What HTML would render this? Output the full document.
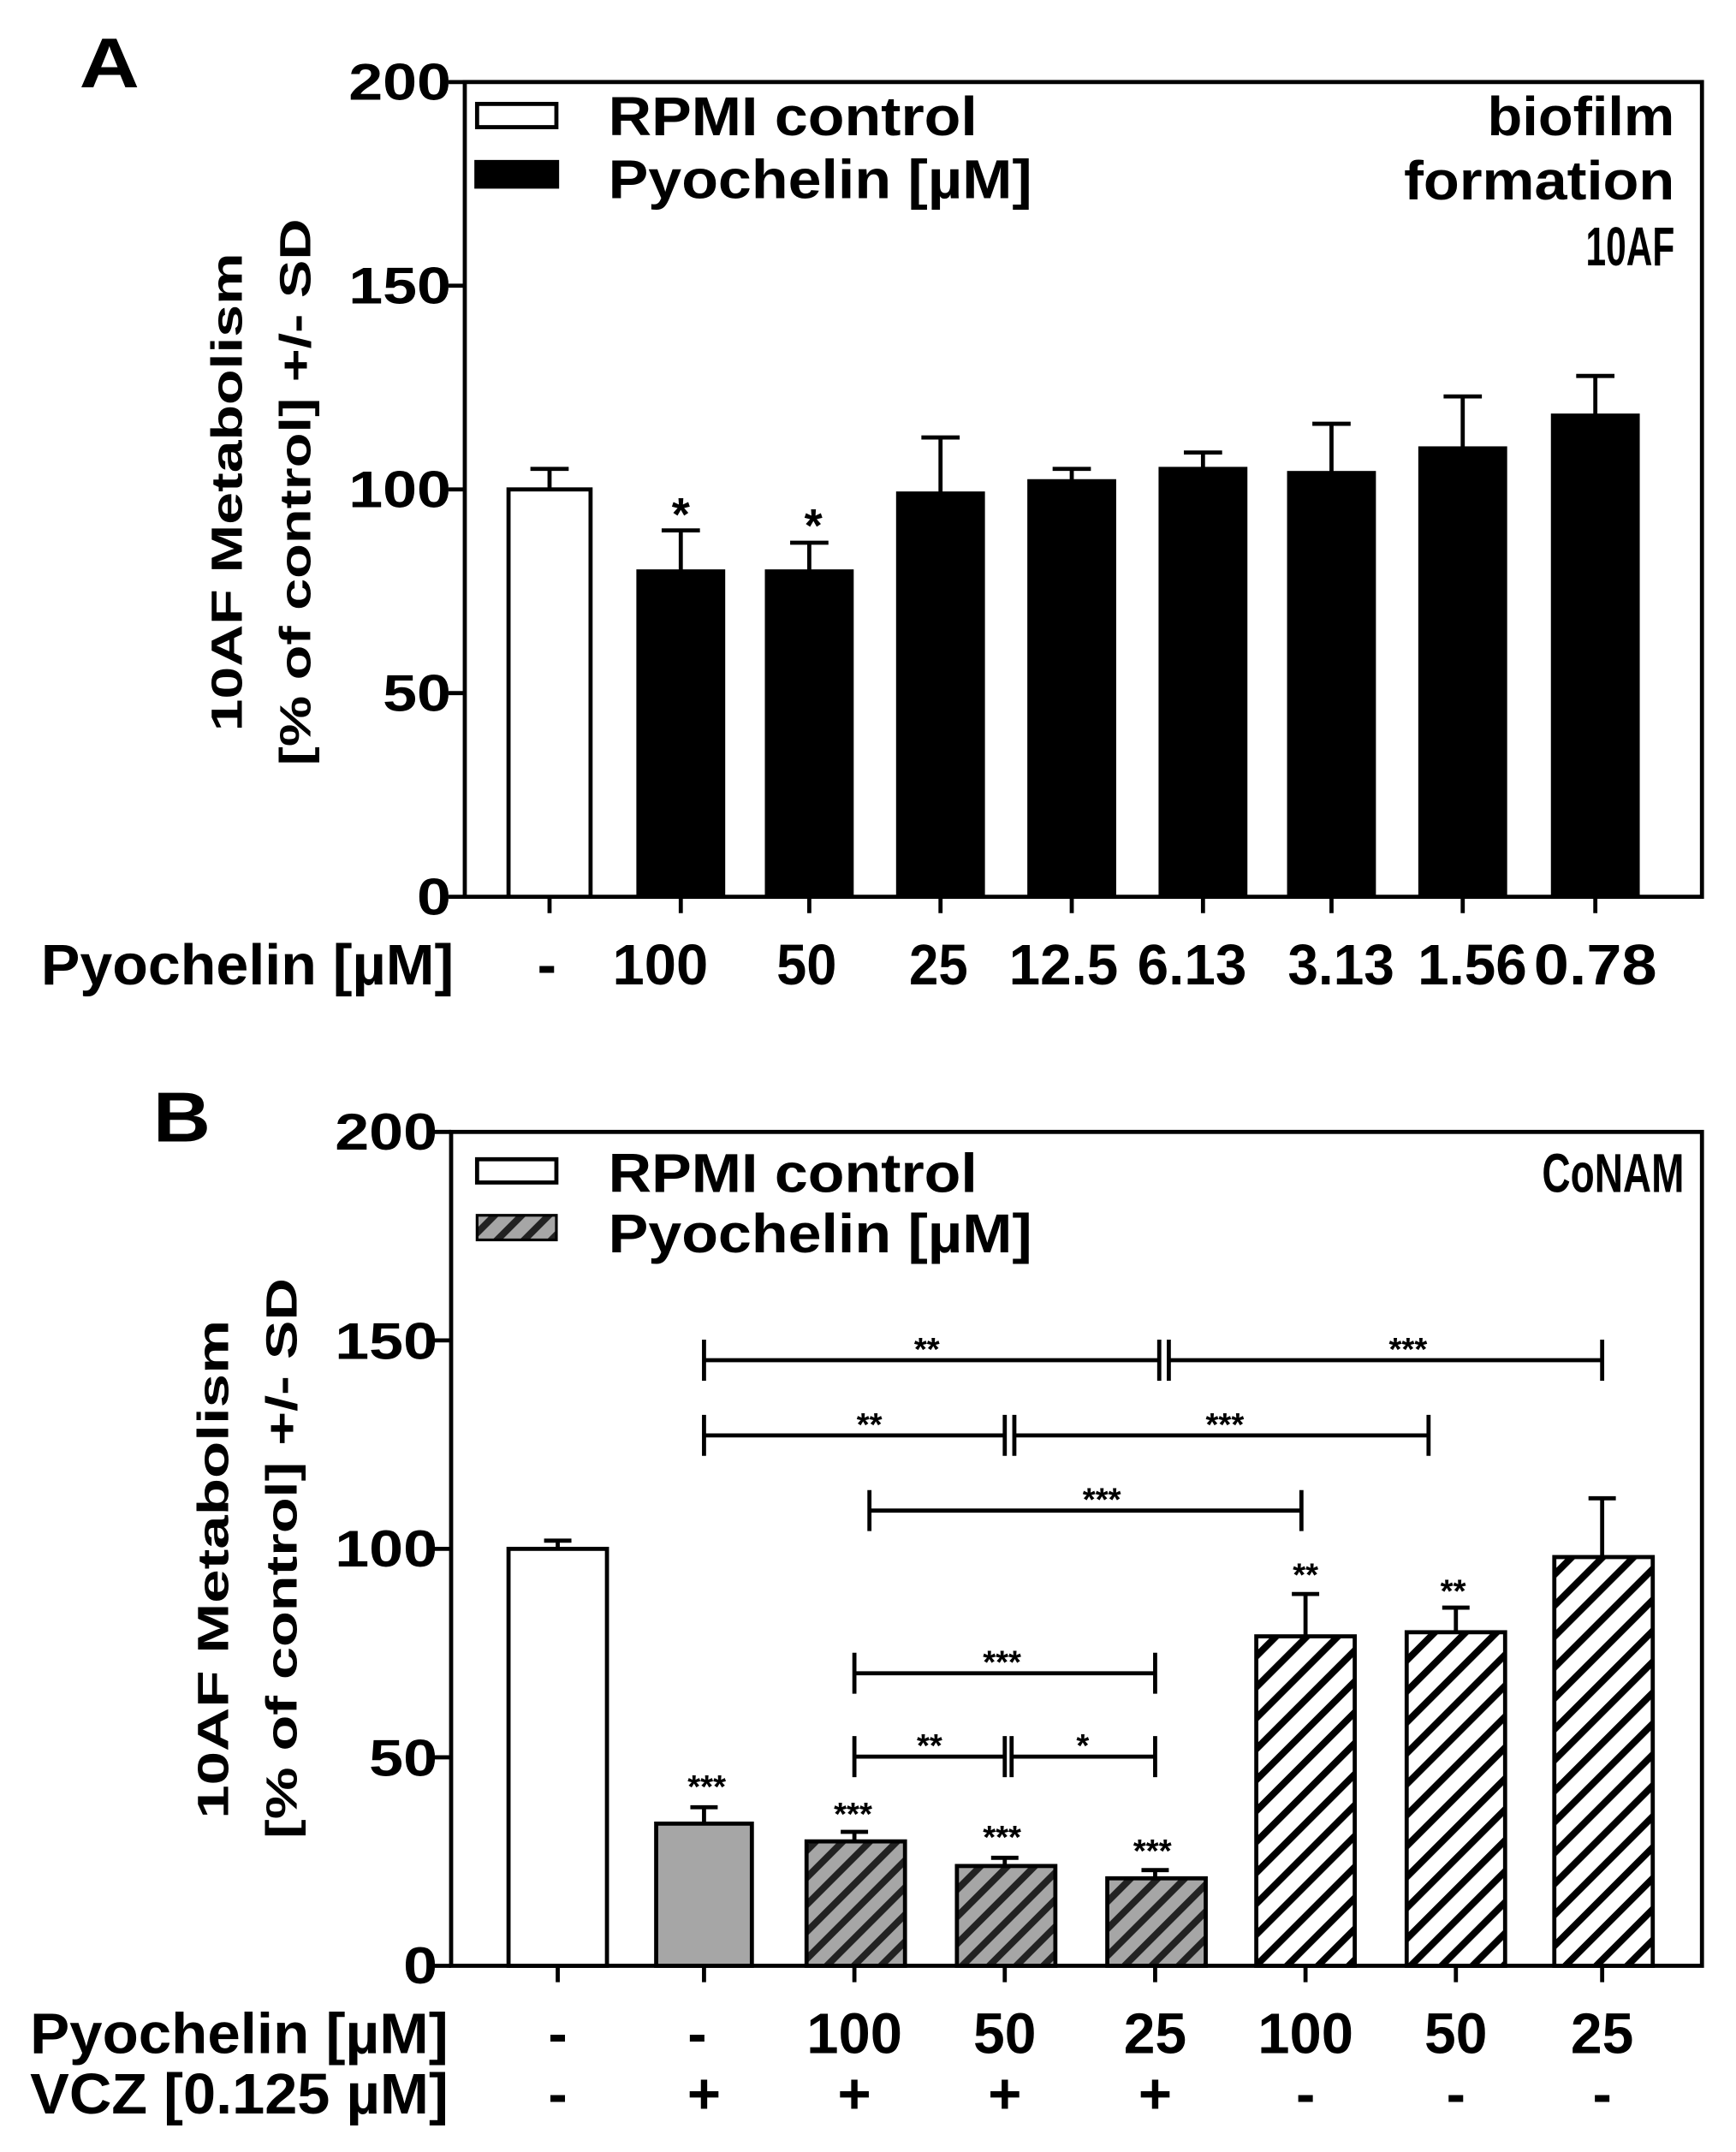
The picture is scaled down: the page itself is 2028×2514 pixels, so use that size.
<!DOCTYPE html>
<html><head><meta charset="utf-8"><style>
html,body{margin:0;padding:0;background:#fff}
svg{display:block}
.c{font-family:"Liberation Sans Narrow","Liberation Sans",sans-serif;font-weight:bold}
.w{font-family:"Liberation Sans",sans-serif;font-weight:bold}
</style></head><body>
<svg width="2028" height="2514" viewBox="0 0 1269.9 1574.2" xmlns="http://www.w3.org/2000/svg">
<defs>
<pattern id="pg" patternUnits="userSpaceOnUse" width="14" height="14" patternTransform="rotate(45)">
<rect width="14" height="14" fill="#a6a6a6"/><rect width="5" height="14" fill="#222"/></pattern>
<pattern id="pw" patternUnits="userSpaceOnUse" width="16" height="16" patternTransform="rotate(45)">
<rect width="16" height="16" fill="#fff"/><rect width="5" height="16" fill="#000"/></pattern>
</defs>
<!-- Panel A -->
<text x="58" y="64" class="w" font-size="52" textLength="44" lengthAdjust="spacingAndGlyphs">A</text>
<g stroke="#000" stroke-width="3" fill="none">
<rect x="340" y="60" width="905" height="596"/>
<line x1="328" y1="60" x2="340" y2="60"/><line x1="328" y1="209" x2="340" y2="209"/><line x1="328" y1="358" x2="340" y2="358"/><line x1="328" y1="507" x2="340" y2="507"/><line x1="328" y1="656" x2="340" y2="656"/>
</g>
<g class="c" font-size="38" text-anchor="end" lengthAdjust="spacingAndGlyphs"><text x="330" y="73" textLength="75" lengthAdjust="spacingAndGlyphs">200</text><text x="330" y="222" textLength="75" lengthAdjust="spacingAndGlyphs">150</text><text x="330" y="371" textLength="75" lengthAdjust="spacingAndGlyphs">100</text><text x="330" y="520" textLength="50" lengthAdjust="spacingAndGlyphs">50</text><text x="330" y="669" textLength="25" lengthAdjust="spacingAndGlyphs">0</text></g>
<g class="w" font-size="32" text-anchor="middle"><text transform="translate(177,360) rotate(-90)" textLength="350" lengthAdjust="spacingAndGlyphs">10AF Metabolism</text><text transform="translate(227,360) rotate(-90)" textLength="400" lengthAdjust="spacingAndGlyphs">[% of control] +/- SD</text></g>
<rect x="349" y="76" width="58" height="17" fill="#fff" stroke="#000" stroke-width="3"/>
<rect x="347" y="117" width="62" height="21" fill="#000"/>
<g class="c" font-size="40"><text x="445" y="99" textLength="270" lengthAdjust="spacingAndGlyphs">RPMI control</text><text x="445" y="145" textLength="310" lengthAdjust="spacingAndGlyphs">Pyochelin [µM]</text></g>
<g class="c" font-size="40" text-anchor="end"><text x="1225" y="99" textLength="137" lengthAdjust="spacingAndGlyphs">biofilm</text><text x="1225" y="146" textLength="198" lengthAdjust="spacingAndGlyphs">formation</text><text x="1225" y="194" textLength="65" lengthAdjust="spacingAndGlyphs">10AF</text></g>
<g fill="#000" stroke="#000" stroke-width="3">
<rect x="372" y="358" width="60" height="298" fill="#fff"/>
<rect x="467" y="418" width="62" height="238"/><rect x="561" y="418" width="62" height="238"/>
<rect x="657" y="361" width="62" height="295"/><rect x="753" y="352" width="62" height="304"/>
<rect x="849" y="343" width="62" height="313"/><rect x="943" y="346" width="62" height="310"/>
<rect x="1039" y="328" width="62" height="328"/><rect x="1136" y="304" width="62" height="352"/>
</g>
<g stroke="#000" stroke-width="3">
<path d="M402 358V343M388 343H416"/><path d="M498 418V388M484 388H512"/><path d="M592 418V397M578 397H606"/>
<path d="M688 361V320M674 320H702"/><path d="M784 352V343M770 343H798"/><path d="M880 343V331M866 331H894"/>
<path d="M974 346V310M960 310H988"/><path d="M1070 328V290M1056 290H1084"/><path d="M1167 304V275M1153 275H1181"/>
<path d="M402 656V668M498 656V668M592 656V668M688 656V668M784 656V668M880 656V668M974 656V668M1070 656V668M1167 656V668"/>
</g>
<g class="c" font-size="34" text-anchor="middle"><text x="498" y="388">*</text><text x="595" y="396">*</text></g>
<g class="c" font-size="42">
<text x="30" y="720" textLength="302" lengthAdjust="spacingAndGlyphs">Pyochelin [µM]</text>
<text x="393" y="720">-</text>
<text x="448" y="720" textLength="70" lengthAdjust="spacingAndGlyphs">100</text>
<text x="568" y="720" textLength="44" lengthAdjust="spacingAndGlyphs">50</text>
<text x="665" y="720" textLength="43" lengthAdjust="spacingAndGlyphs">25</text>
<text x="738" y="720" textLength="80" lengthAdjust="spacingAndGlyphs">12.5</text>
<text x="832" y="720" textLength="80" lengthAdjust="spacingAndGlyphs">6.13</text>
<text x="942" y="720" textLength="78" lengthAdjust="spacingAndGlyphs">3.13</text>
<text x="1037" y="720" textLength="80" lengthAdjust="spacingAndGlyphs">1.56</text>
<text x="1122" y="720" textLength="90" lengthAdjust="spacingAndGlyphs">0.78</text>
</g>
<!-- Panel B -->
<text x="112" y="835" class="w" font-size="52" textLength="42" lengthAdjust="spacingAndGlyphs">B</text>
<g stroke="#000" stroke-width="3" fill="none">
<rect x="330" y="828" width="915" height="610"/>
<line x1="318" y1="828" x2="330" y2="828"/><line x1="318" y1="980.5" x2="330" y2="980.5"/><line x1="318" y1="1133" x2="330" y2="1133"/><line x1="318" y1="1285.5" x2="330" y2="1285.5"/><line x1="318" y1="1438" x2="330" y2="1438"/>
</g>
<g class="c" font-size="38" text-anchor="end"><text x="320" y="841" textLength="75" lengthAdjust="spacingAndGlyphs">200</text><text x="320" y="994" textLength="75" lengthAdjust="spacingAndGlyphs">150</text><text x="320" y="1146" textLength="75" lengthAdjust="spacingAndGlyphs">100</text><text x="320" y="1299" textLength="50" lengthAdjust="spacingAndGlyphs">50</text><text x="320" y="1451" textLength="25" lengthAdjust="spacingAndGlyphs">0</text></g>
<g class="w" font-size="32" text-anchor="middle"><text transform="translate(167,1148) rotate(-90)" textLength="365" lengthAdjust="spacingAndGlyphs">10AF Metabolism</text><text transform="translate(217,1140) rotate(-90)" textLength="410" lengthAdjust="spacingAndGlyphs">[%  of control] +/- SD</text></g>
<rect x="349" y="848" width="58" height="17" fill="#fff" stroke="#000" stroke-width="3"/>
<rect x="349" y="889" width="58" height="18" fill="url(#pg)" stroke="#000" stroke-width="2"/>
<g class="c" font-size="40"><text x="445" y="872" textLength="270" lengthAdjust="spacingAndGlyphs">RPMI control</text><text x="445" y="916" textLength="310" lengthAdjust="spacingAndGlyphs">Pyochelin [µM]</text></g>
<text x="1232" y="872" class="c" font-size="40" text-anchor="end" textLength="104" lengthAdjust="spacingAndGlyphs">CoNAM</text>
<g stroke="#000" stroke-width="3">
<rect x="372" y="1133" width="72" height="305" fill="#fff"/>
<rect x="480" y="1334" width="70" height="104" fill="#a6a6a6"/>
<rect x="590" y="1347" width="72" height="91" fill="url(#pg)"/>
<rect x="700" y="1365" width="72" height="73" fill="url(#pg)"/>
<rect x="810" y="1374" width="72" height="64" fill="url(#pg)"/>
<rect x="919" y="1197" width="72" height="241" fill="url(#pw)"/>
<rect x="1029" y="1194" width="72" height="244" fill="url(#pw)"/>
<rect x="1137" y="1139" width="72" height="299" fill="url(#pw)"/>
</g>
<g stroke="#000" stroke-width="3" fill="none">
<path d="M408 1133V1127M398 1127H418"/><path d="M515 1334V1322M505 1322H525"/><path d="M625 1347V1340M615 1340H635"/>
<path d="M735 1365V1359M725 1359H745"/><path d="M845 1374V1368M835 1368H855"/><path d="M955 1197V1166M945 1166H965"/>
<path d="M1065 1194V1176M1055 1176H1075"/><path d="M1172 1139V1096M1162 1096H1182"/>
<path d="M408 1438V1450M515 1438V1450M625 1438V1450M735 1438V1450M845 1438V1450M955 1438V1450M1065 1438V1450M1172 1438V1450"/>
<path d="M515 995H848M515 980V1010M848 980V1010M855 995H1172M855 980V1010M1172 980V1010"/>
<path d="M515 1050H735M515 1035V1065M735 1035V1065M742 1050H1045M742 1035V1065M1045 1035V1065"/>
<path d="M636 1105H952M636 1090V1120M952 1090V1120"/>
<path d="M625 1224H845M625 1209V1239M845 1209V1239"/>
<path d="M625 1285H735M625 1270V1300M735 1270V1300M740 1285H845M740 1270V1300M845 1270V1300"/>
</g>
<g class="c" font-size="24" text-anchor="middle">
<text x="678" y="995">**</text><text x="1030" y="995">***</text>
<text x="636" y="1050">**</text><text x="896" y="1050">***</text>
<text x="806" y="1105">***</text><text x="733" y="1224">***</text>
<text x="680" y="1285">**</text><text x="792" y="1285">*</text>
<text x="517" y="1315">***</text><text x="624" y="1335">***</text><text x="733" y="1352">***</text><text x="843" y="1362">***</text>
<text x="955" y="1160">**</text><text x="1063" y="1172">**</text>
</g>
<g class="c" font-size="42" text-anchor="middle">
<text x="175" y="1502" textLength="306" lengthAdjust="spacingAndGlyphs">Pyochelin [µM]</text><text x="408" y="1502">-</text><text x="510" y="1502">-</text><text x="625" y="1502" textLength="70" lengthAdjust="spacingAndGlyphs">100</text><text x="735" y="1502" textLength="46" lengthAdjust="spacingAndGlyphs">50</text><text x="845" y="1502" textLength="46" lengthAdjust="spacingAndGlyphs">25</text><text x="955" y="1502" textLength="70" lengthAdjust="spacingAndGlyphs">100</text><text x="1065" y="1502" textLength="46" lengthAdjust="spacingAndGlyphs">50</text><text x="1172" y="1502" textLength="46" lengthAdjust="spacingAndGlyphs">25</text>
<text x="175" y="1546" textLength="306" lengthAdjust="spacingAndGlyphs">VCZ [0.125 µM]</text><text x="408" y="1546">-</text><text x="515" y="1546">+</text><text x="625" y="1546">+</text><text x="735" y="1546">+</text><text x="845" y="1546">+</text><text x="955" y="1546">-</text><text x="1065" y="1546">-</text><text x="1172" y="1546">-</text>
</g>
</svg>
</body></html>
